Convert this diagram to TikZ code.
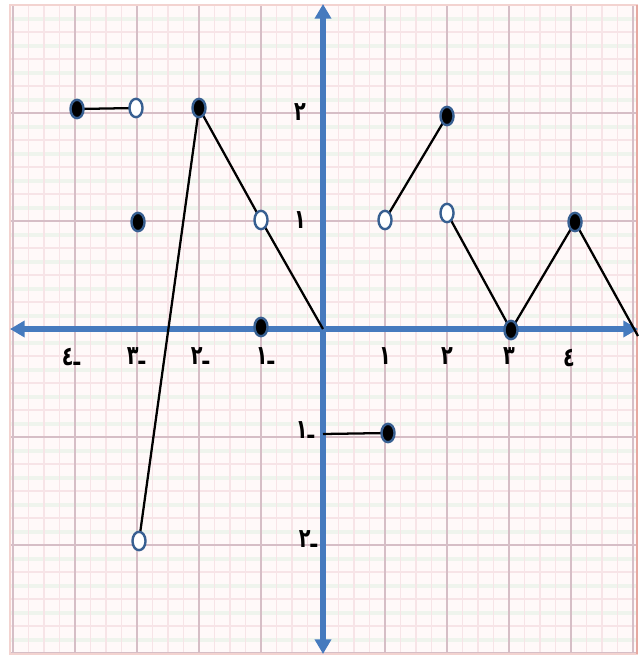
\documentclass[tikz,border=0pt]{standalone}
\usepackage{fontspec}
\usepackage{graphicx}
\newfontfamily\arabicfont[Script=Arabic]{DejaVu Sans}
\usetikzlibrary{shapes.geometric,arrows.meta}
\definecolor{axisblue}{RGB}{70,122,190}
\definecolor{mkedge}{RGB}{55,95,145}
\definecolor{gridminor}{RGB}{247,228,231}
\definecolor{gridmajor}{RGB}{214,190,198}
\definecolor{paper}{RGB}{255,249,249}
\definecolor{papergreen}{RGB}{239,244,237}
\definecolor{edgepink}{RGB}{230,168,160}
\tikzset{
  filledpt/.style={ellipse, draw=mkedge, line width=1.8pt, fill=black,
    minimum width=9.8pt, minimum height=13.8pt, inner sep=0pt},
  openpt/.style={filledpt, fill=white},
  graphline/.style={black, line width=1.7pt},
  axisline/.style={axisblue, line width=4pt,
    {Triangle[length=11pt,width=12pt]}-{Triangle[length=11pt,width=12pt]}},
  lbl/.style={font=\arabicfont\bfseries\fontsize{20}{22}\selectfont, inner sep=0pt},
}
\newcommand{\nx}[1]{\scalebox{0.72}[1]{#1}}
\begin{document}
\begin{tikzpicture}[x=0.75pt,y=-0.75pt]
\useasboundingbox (0,0) rectangle (643,657);
% graph paper
\fill[paper] (10,5) rectangle (637,654);
\begin{scope}
  \clip (10,5) rectangle (637,654);
  \foreach \j in {-13,...,13} {
    \draw[papergreen, line width=3pt] (10,{329+27*\j+13.5}) -- (637,{329+27*\j+13.5});
  }
  \foreach \i in {-21,...,21} {
    \draw[gridminor, line width=1.2pt] ({323+15.5*\i},5) -- ({323+15.5*\i},654);
  }
  \foreach \j in {-13,...,13} {
    \draw[gridminor, line width=1.2pt] (10,{329+27*\j}) -- (637,{329+27*\j});
  }
  \foreach \i in {-6,...,6} {
    \draw[gridmajor, line width=1.2pt] ({323+62*\i},5) -- ({323+62*\i},654);
  }
  \foreach \j in {-3,...,3} {
    \draw[gridmajor, line width=1.2pt] (10,{329+108*\j}) -- (637,{329+108*\j});
  }
\end{scope}
\draw[edgepink!50, line width=0.8pt] (10,5) rectangle (637,654);
\draw[edgepink, line width=1.2pt] (637,5) -- (637,654);
% axes
\coordinate (xl) at (10,329);
\coordinate (xr) at (638,329);
\coordinate (yt) at (323,4);
\coordinate (yb) at (323,654);
\draw[axisline] (xl) -- (xr);
\draw[axisline] (yb) -- (yt);
% points
\coordinate (pA) at (77,109);
\coordinate (pB) at (136,108);
\coordinate (pC) at (138,222);
\coordinate (pD) at (139,541);
\coordinate (pE) at (199,108);
\coordinate (pF) at (261,220);
\coordinate (pO) at (323,329);
\coordinate (pG) at (261,327);
\coordinate (pH0) at (323,434);
\coordinate (pH) at (388,433);
\coordinate (pI) at (385,220);
\coordinate (pJ) at (447,116);
\coordinate (pK) at (447,213);
\coordinate (pL) at (511,330);
\coordinate (pM) at (575,222);
\coordinate (pEnd) at (638,336);
% graph
\draw[graphline] (pA) -- (pB);
\draw[graphline] (pD) -- (pE) -- (pF) -- (pO);
\draw[graphline] (pH0) -- (pH);
\draw[graphline] (pI) -- (pJ);
\draw[graphline] (pK) -- (pL) -- (pM) -- (pEnd);
% markers
\node[filledpt] (A) at (pA) {};
\node[openpt]   (B) at (pB) {};
\node[filledpt] (C) at (pC) {};
\node[openpt]   (D) at (pD) {};
\node[filledpt] (E) at (pE) {};
\node[openpt]   (F) at (pF) {};
\node[filledpt] (G) at (pG) {};
\node[filledpt] (H) at (pH) {};
\node[openpt]   (I) at (pI) {};
\node[filledpt] (J) at (pJ) {};
\node[openpt]   (K) at (pK) {};
\node[filledpt] (L) at (pL) {};
\node[filledpt] (M) at (pM) {};
% x labels
\node[lbl] (xm4) at (71,357) {\nx{ـ٤}};
\node[lbl] (xm3) at (136,356) {\nx{ـ٣}};
\node[lbl] (xm2) at (200,356) {\nx{ـ٢}};
\node[lbl] (xm1) at (265,356) {\nx{ـ١}};
\node[lbl] (xp1) at (385,356) {\nx{١}};
\node[lbl] (xp2) at (447,356) {\nx{٢}};
\node[lbl] (xp3) at (509,356) {\nx{٣}};
\node[lbl] (xp4) at (569,358) {\nx{٤}};
% y labels
\node[lbl] (yp2) at (300,112) {\nx{٢}};
\node[lbl] (yp1) at (300,220) {\nx{١}};
\node[lbl] (ym1) at (305,430) {\nx{ـ١}};
\node[lbl] (ym2) at (308,539) {\nx{ـ٢}};
\end{tikzpicture}
\end{document}
